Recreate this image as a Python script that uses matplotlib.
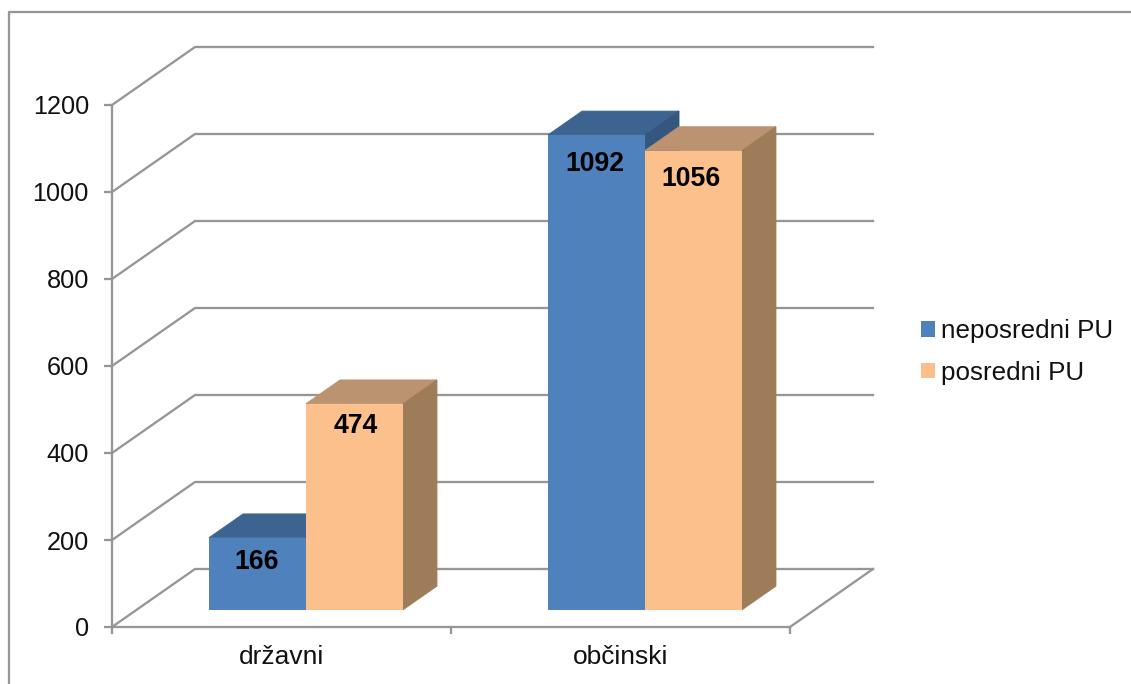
import matplotlib
matplotlib.use("Agg")
import matplotlib.pyplot as plt
from matplotlib.lines import Line2D
from matplotlib.patches import Patch, Polygon

plt.rcParams['font.family'] = ['Liberation Sans', 'DejaVu Sans']

categories = ['državni', 'občinski']
series_names = ['neposredni PU', 'posredni PU']
neposredni = [166, 1092]
posredni = [474, 1056]
y_ticks = [0, 200, 400, 600, 800, 1000, 1200]

W, H = 1131, 684
PX = 72 / 100
GRAY = '#969696'
LW = 2.3 * PX
DX = 83 / 339          # depth offset, category units
DY = 58 / 0.435        # depth offset, value units
D0, D1 = 0.295, 0.705  # bar front and back depth
BAR_W = 0.286
FACES = [('#4F81BD', '#3D6491', '#35577F'), ('#FCC08D', '#BC9370', '#9E7C5A')]
LABEL_OFF = [[(-1, -24), (1, -22)], [(-2, -29), (-2, -28)]]

fig = plt.figure(figsize=(W / 100, H / 100), dpi=100, facecolor='white')
ax = fig.add_axes([112 / W, 1 - 627 / H, 678 / W, 522 / H])
ax.set_xlim(0, len(categories))
ax.set_ylim(0, y_ticks[-1])
ax.patch.set_visible(False)


def proj(x, v, d):
    return (x + d * DX, v + d * DY)


# frame of the chart area
fig.add_artist(Line2D([9 / W, 9 / W, 1], [0, 1 - 12 / H, 1 - 12 / H], color=GRAY, lw=LW))

# walls and floor
n = len(categories)
for v in y_ticks:
    xs, ys = zip(proj(0, v, 0), proj(0, v, 1), proj(n, v, 1))
    ax.plot(xs, ys, color=GRAY, lw=LW, clip_on=False, zorder=1, solid_joinstyle='miter')
xs, ys = zip(proj(n, 0, 1), proj(n, 0, 0))
ax.plot(xs, ys, color=GRAY, lw=LW, clip_on=False, zorder=1)

# bars
for s, values in enumerate([neposredni, posredni]):
    front, top, side = FACES[s]
    for c, v in enumerate(values):
        x0 = c + 0.5 - BAR_W + s * BAR_W
        x1 = x0 + BAR_W
        z = 3 + c * 3 + s
        ax.add_patch(Polygon([proj(x0, v, D0), proj(x1, v, D0), proj(x1, v, D1), proj(x0, v, D1)],
                             fc=top, ec=top, lw=0.6, clip_on=False, zorder=z))
        ax.add_patch(Polygon([proj(x1, 0, D0), proj(x1, v, D0), proj(x1, v, D1), proj(x1, 0, D1)],
                             fc=side, ec=side, lw=0.6, clip_on=False, zorder=z))
        ax.add_patch(Polygon([proj(x0, 0, D0), proj(x1, 0, D0), proj(x1, v, D0), proj(x0, v, D0)],
                             fc=front, ec='none', clip_on=False, zorder=z))
        ox, oy = LABEL_OFF[c][s]
        ax.annotate(str(v), xy=proj((x0 + x1) / 2, v, D0), xytext=(ox * PX, oy * PX),
                    textcoords='offset points', ha='center', va='center',
                    fontsize=19.2, fontweight='bold', color='black', zorder=20)

# axes
for name in ('top', 'right'):
    ax.spines[name].set_visible(False)
for name in ('left', 'bottom'):
    ax.spines[name].set_color(GRAY)
    ax.spines[name].set_linewidth(LW)
ax.set_yticks(y_ticks)
ax.tick_params(axis='y', length=8 * PX, width=LW, color=GRAY, pad=15 * PX, labelsize=18.2, labelcolor='#111111')
ax.set_xticks(range(n + 1))
ax.set_xticklabels([])
ax.tick_params(axis='x', which='major', length=7 * PX, width=LW, color=GRAY)
ax.set_xticks([i + 0.5 for i in range(n)], minor=True)
ax.set_xticklabels(categories, minor=True, fontsize=19, color='#111111')
ax.tick_params(axis='x', which='minor', length=0, pad=17.5 * PX)

handles = [Patch(fc=FACES[i][0], ec='none', label=series_names[i]) for i in range(2)]
fig.legend(handles=handles, loc='center left', bbox_to_anchor=(921 / W, 1 - 352 / H),
           frameon=False, fontsize=18.7, handlelength=0.54, handleheight=0.54,
           handletextpad=0.24, labelspacing=0.66, borderpad=0, borderaxespad=0,
           labelcolor='#111111')

fig.savefig('out.png', dpi=100)
